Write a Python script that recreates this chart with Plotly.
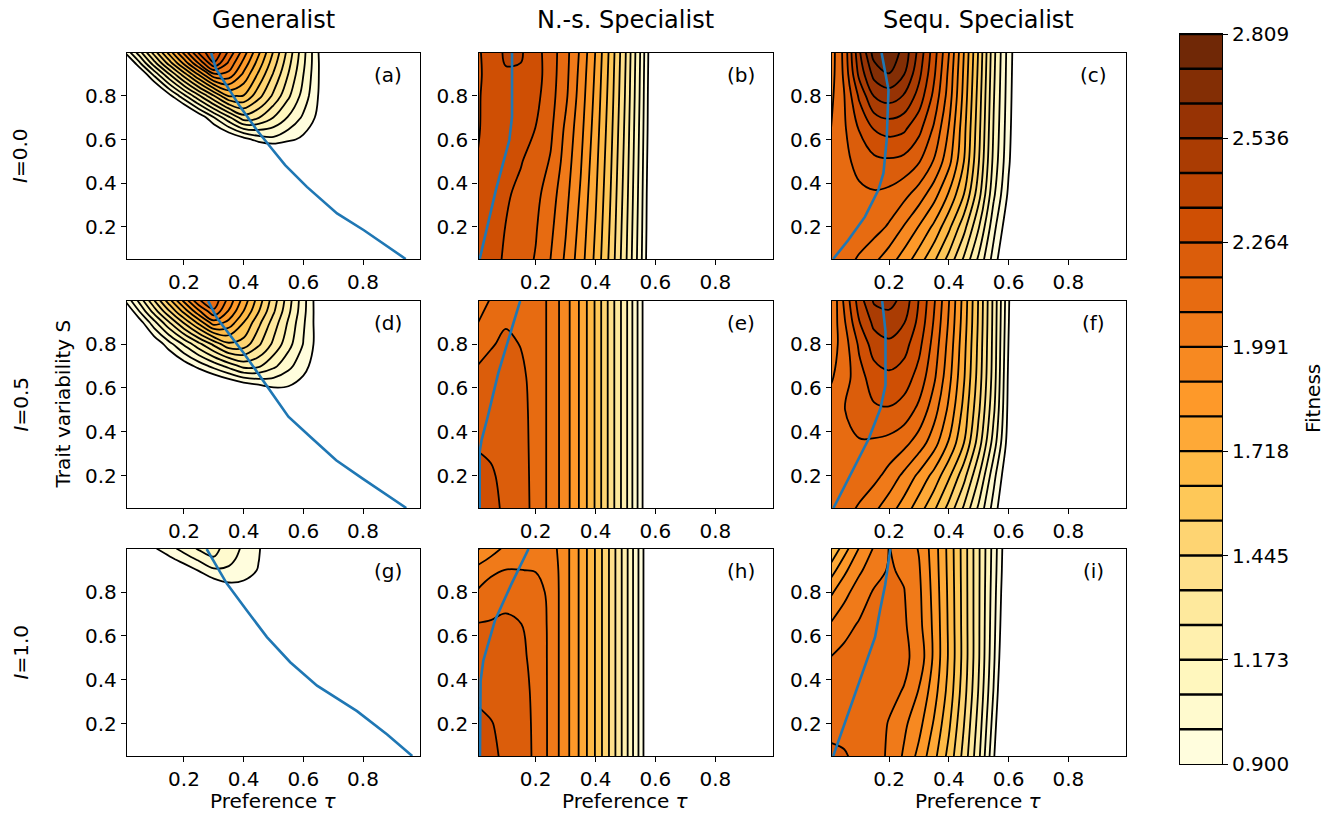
import numpy as np
import plotly.graph_objects as go

# ---------------- data ----------------
TAU = [0.005, 0.05, 0.10, 0.15, 0.20, 0.25, 0.30, 0.35, 0.40, 0.45, 0.50,
       0.55, 0.60, 0.65, 0.70, 0.85, 0.995]
S_GEN = [0.045, 0.35, 0.50, 0.60, 0.70, 0.80, 0.90, 0.95, 0.999]
S_SPEC = [0.045, 0.20, 0.35, 0.50, 0.65, 0.80, 0.90, 0.999]

# Generalist, I=0.0
FIT_A = [
    [0.10, 0.10, 0.11, 0.12, 0.13, 0.14, 0.15, 0.17, 0.19, 0.21, 0.23, 0.25, 0.27, 0.28, 0.29, 0.30, 0.30],
    [0.15, 0.16, 0.18, 0.20, 0.22, 0.25, 0.28, 0.31, 0.34, 0.37, 0.40, 0.42, 0.43, 0.43, 0.42, 0.38, 0.30],
    [0.20, 0.22, 0.26, 0.30, 0.35, 0.40, 0.45, 0.50, 0.55, 0.60, 0.62, 0.62, 0.60, 0.58, 0.56, 0.45, 0.30],
    [0.25, 0.318, 0.394, 0.473, 0.549, 0.627, 0.704, 0.781, 0.858, 0.935, 0.965, 0.921, 0.878, 0.835, 0.792, 0.50, 0.30],
    [0.20, 0.20, 0.323, 0.487, 0.653, 0.817, 0.983, 1.147, 1.313, 1.267, 1.170, 1.072, 0.974, 0.877, 0.779, 0.40, 0.20],
    [0.32, 0.476, 0.669, 0.862, 1.054, 1.247, 1.440, 1.632, 1.623, 1.478, 1.334, 1.189, 1.045, 0.899, 0.755, 0.30, 0.20],
    [0.59, 0.78, 1.02, 1.259, 1.498, 1.738, 1.977, 1.966, 1.790, 1.613, 1.436, 1.261, 1.084, 0.907, 0.730, 0.30, 0.20],
    [0.735, 0.967, 1.225, 1.483, 1.740, 1.998, 2.254, 2.062, 1.870, 1.678, 1.485, 1.293, 1.101, 0.908, 0.720, 0.30, 0.20],
    [0.916, 1.128, 1.393, 1.658, 1.923, 2.188, 2.358, 2.151, 1.943, 1.735, 1.527, 1.320, 1.112, 0.904, 0.696, 0.30, 0.20],
]
# N.-s. Specialist, I=0.0
FIT_B = [
    [2.31, 2.29, 2.253, 2.211, 2.166, 2.080, 1.976, 1.850, 1.696, 1.508, 1.283, 1.019, 0.70, 0.50, 0.35, 0.20, 0.10],
    [2.29, 2.295, 2.262, 2.221, 2.181, 2.102, 1.998, 1.870, 1.713, 1.523, 1.295, 1.028, 0.71, 0.50, 0.35, 0.20, 0.10],
    [2.275, 2.285, 2.277, 2.240, 2.199, 2.124, 2.020, 1.890, 1.731, 1.537, 1.308, 1.037, 0.71, 0.50, 0.35, 0.20, 0.10],
    [2.265, 2.285, 2.295, 2.270, 2.221, 2.165, 2.043, 1.910, 1.748, 1.552, 1.320, 1.046, 0.72, 0.50, 0.35, 0.20, 0.10],
    [2.258, 2.285, 2.305, 2.295, 2.262, 2.190, 2.065, 1.930, 1.766, 1.567, 1.332, 1.055, 0.73, 0.50, 0.35, 0.20, 0.10],
    [2.255, 2.290, 2.325, 2.320, 2.290, 2.207, 2.100, 1.950, 1.783, 1.582, 1.345, 1.065, 0.73, 0.50, 0.35, 0.20, 0.10],
    [2.250, 2.290, 2.345, 2.343, 2.303, 2.214, 2.110, 1.962, 1.794, 1.591, 1.352, 1.070, 0.735, 0.50, 0.35, 0.20, 0.10],
    [2.250, 2.300, 2.370, 2.365, 2.297, 2.217, 2.115, 1.975, 1.805, 1.600, 1.360, 1.076, 0.74, 0.50, 0.35, 0.20, 0.10],
]
# Sequ. Specialist, I=0.0
FIT_C = [
    [2.14, 2.12, 2.066, 2.007, 1.937, 1.855, 1.756, 1.64, 1.50, 1.336, 1.149, 0.95, 0.75, 0.60, 0.45, 0.25, 0.10],
    [2.135, 2.14, 2.145, 2.12, 2.07, 1.985, 1.895, 1.79, 1.65, 1.48, 1.27, 1.02, 0.82, 0.65, 0.50, 0.25, 0.10],
    [2.12, 2.14, 2.155, 2.163, 2.15, 2.11, 2.04, 1.94, 1.80, 1.63, 1.39, 1.10, 0.88, 0.70, 0.53, 0.30, 0.10],
    [2.10, 2.15, 2.20, 2.24, 2.25, 2.235, 2.18, 2.075, 1.93, 1.72, 1.45, 1.145, 0.915, 0.72, 0.54, 0.30, 0.10],
    [2.08, 2.16, 2.27, 2.36, 2.389, 2.37, 2.29, 2.16, 1.985, 1.75, 1.475, 1.165, 0.93, 0.73, 0.55, 0.30, 0.10],
    [2.06, 2.17, 2.37, 2.54, 2.578, 2.53, 2.41, 2.24, 2.04, 1.78, 1.495, 1.18, 0.94, 0.735, 0.55, 0.30, 0.10],
    [2.04, 2.19, 2.47, 2.66, 2.715, 2.63, 2.47, 2.28, 2.06, 1.795, 1.51, 1.19, 0.945, 0.74, 0.55, 0.30, 0.10],
    [2.03, 2.20, 2.52, 2.76, 2.79, 2.684, 2.507, 2.305, 2.085, 1.81, 1.523, 1.199, 0.95, 0.745, 0.55, 0.30, 0.10],
]
# Generalist, I=0.5
FIT_D = [
    [0.10, 0.10, 0.11, 0.12, 0.13, 0.14, 0.15, 0.17, 0.19, 0.21, 0.23, 0.25, 0.27, 0.28, 0.29, 0.30, 0.30],
    [0.15, 0.16, 0.18, 0.20, 0.22, 0.25, 0.28, 0.31, 0.34, 0.37, 0.40, 0.42, 0.43, 0.43, 0.42, 0.38, 0.30],
    [0.30, 0.33, 0.36, 0.40, 0.44, 0.48, 0.52, 0.56, 0.60, 0.63, 0.65, 0.65, 0.63, 0.60, 0.57, 0.45, 0.30],
    [0.40, 0.45, 0.50, 0.55, 0.60, 0.65, 0.70, 0.75, 0.80, 0.85, 0.895, 0.89, 0.86, 0.80, 0.74, 0.50, 0.30],
    [0.50, 0.57, 0.661, 0.752, 0.842, 0.933, 1.023, 1.114, 1.204, 1.188, 1.103, 1.017, 0.931, 0.845, 0.759, 0.45, 0.25],
    [0.558, 0.671, 0.813, 0.954, 1.095, 1.236, 1.378, 1.519, 1.499, 1.371, 1.243, 1.115, 0.987, 0.859, 0.731, 0.35, 0.20],
    [0.688, 0.851, 1.055, 1.258, 1.462, 1.665, 1.868, 1.785, 1.628, 1.473, 1.316, 1.161, 1.006, 0.850, 0.694, 0.30, 0.20],
    [0.788, 0.989, 1.213, 1.435, 1.658, 1.882, 2.064, 1.891, 1.716, 1.542, 1.368, 1.194, 1.020, 0.845, 0.670, 0.30, 0.20],
    [0.915, 1.107, 1.349, 1.590, 1.832, 2.073, 2.144, 1.957, 1.771, 1.584, 1.398, 1.213, 1.026, 0.840, 0.655, 0.30, 0.20],
]
# N.-s. Specialist, I=0.5
FIT_E = [
    [2.31, 2.285, 2.25, 2.215, 2.143, 2.056, 1.940, 1.792, 1.615, 1.406, 1.202, 0.94, 0.656, 0.45, 0.35, 0.20, 0.10],
    [2.29, 2.272, 2.245, 2.21, 2.143, 2.056, 1.940, 1.792, 1.615, 1.406, 1.202, 0.94, 0.656, 0.45, 0.35, 0.20, 0.10],
    [2.255, 2.25, 2.235, 2.205, 2.143, 2.056, 1.940, 1.792, 1.615, 1.406, 1.202, 0.94, 0.656, 0.45, 0.35, 0.20, 0.10],
    [2.235, 2.235, 2.225, 2.20, 2.143, 2.056, 1.940, 1.792, 1.615, 1.406, 1.202, 0.94, 0.656, 0.45, 0.35, 0.20, 0.10],
    [2.20, 2.21, 2.21, 2.19, 2.143, 2.056, 1.940, 1.792, 1.615, 1.406, 1.202, 0.94, 0.656, 0.45, 0.35, 0.20, 0.10],
    [2.12, 2.165, 2.19, 2.170, 2.143, 2.056, 1.940, 1.792, 1.615, 1.406, 1.202, 0.94, 0.656, 0.45, 0.35, 0.20, 0.10],
    [2.078, 2.12, 2.165, 2.165, 2.143, 2.056, 1.940, 1.792, 1.615, 1.406, 1.202, 0.94, 0.656, 0.45, 0.35, 0.20, 0.10],
    [2.06, 2.085, 2.13, 2.16, 2.143, 2.056, 1.940, 1.792, 1.615, 1.406, 1.202, 0.94, 0.656, 0.45, 0.35, 0.20, 0.10],
]
# Sequ. Specialist, I=0.5
FIT_F = [
    [2.14, 2.12, 2.066, 2.007, 1.937, 1.855, 1.756, 1.64, 1.50, 1.336, 1.149, 0.95, 0.75, 0.50, 0.40, 0.25, 0.10],
    [2.145, 2.15, 2.145, 2.11, 2.05, 1.97, 1.88, 1.78, 1.645, 1.48, 1.27, 1.02, 0.80, 0.55, 0.40, 0.25, 0.10],
    [2.14, 2.155, 2.165, 2.16, 2.145, 2.11, 2.04, 1.94, 1.80, 1.63, 1.40, 1.13, 0.85, 0.56, 0.40, 0.25, 0.10],
    [2.12, 2.17, 2.22, 2.25, 2.255, 2.225, 2.15, 2.03, 1.88, 1.69, 1.46, 1.19, 0.87, 0.57, 0.40, 0.25, 0.10],
    [2.07, 2.13, 2.23, 2.31, 2.335, 2.31, 2.23, 2.10, 1.93, 1.73, 1.495, 1.22, 0.88, 0.58, 0.40, 0.25, 0.10],
    [2.03, 2.13, 2.28, 2.40, 2.43, 2.39, 2.29, 2.14, 1.96, 1.75, 1.51, 1.23, 0.895, 0.585, 0.40, 0.25, 0.10],
    [2.01, 2.16, 2.35, 2.47, 2.49, 2.45, 2.33, 2.165, 1.98, 1.765, 1.52, 1.235, 0.905, 0.59, 0.40, 0.25, 0.10],
    [1.99, 2.19, 2.40, 2.55, 2.57, 2.504, 2.35, 2.186, 1.995, 1.775, 1.526, 1.239, 0.913, 0.59, 0.40, 0.25, 0.10],
]
# Generalist, I=1.0
FIT_G = [
    [0.10, 0.10, 0.11, 0.12, 0.13, 0.14, 0.15, 0.17, 0.19, 0.21, 0.23, 0.25, 0.27, 0.28, 0.29, 0.30, 0.30],
    [0.20, 0.22, 0.25, 0.28, 0.31, 0.34, 0.37, 0.40, 0.43, 0.46, 0.48, 0.50, 0.50, 0.50, 0.49, 0.45, 0.35],
    [0.30, 0.33, 0.36, 0.40, 0.44, 0.48, 0.52, 0.56, 0.60, 0.63, 0.65, 0.66, 0.66, 0.64, 0.62, 0.55, 0.40],
    [0.35, 0.38, 0.42, 0.46, 0.50, 0.54, 0.58, 0.62, 0.66, 0.70, 0.72, 0.72, 0.70, 0.68, 0.65, 0.55, 0.40],
    [0.40, 0.44, 0.48, 0.52, 0.56, 0.60, 0.65, 0.70, 0.74, 0.77, 0.78, 0.76, 0.73, 0.70, 0.66, 0.55, 0.40],
    [0.45, 0.50, 0.55, 0.60, 0.66, 0.72, 0.78, 0.84, 0.86, 0.84, 0.80, 0.77, 0.74, 0.70, 0.66, 0.55, 0.40],
    [0.586, 0.64, 0.706, 0.773, 0.84, 0.907, 0.974, 0.976, 0.935, 0.895, 0.855, 0.814, 0.774, 0.73, 0.69, 0.55, 0.40],
    [0.68, 0.74, 0.807, 0.874, 0.94, 1.006, 1.073, 1.016, 0.959, 0.902, 0.845, 0.79, 0.73, 0.68, 0.63, 0.50, 0.35],
    [0.765, 0.82, 0.889, 0.957, 1.026, 1.095, 1.109, 1.042, 0.974, 0.907, 0.839, 0.771, 0.703, 0.64, 0.58, 0.40, 0.30],
]
# N.-s. Specialist, I=1.0
FIT_H = [
    [2.31, 2.285, 2.245, 2.205, 2.16, 2.057, 1.935, 1.790, 1.62, 1.425, 1.209, 0.957, 0.673, 0.45, 0.35, 0.20, 0.10],
    [2.285, 2.268, 2.24, 2.20, 2.16, 2.057, 1.935, 1.790, 1.62, 1.425, 1.209, 0.957, 0.673, 0.45, 0.35, 0.20, 0.10],
    [2.245, 2.235, 2.225, 2.195, 2.158, 2.057, 1.935, 1.790, 1.62, 1.425, 1.209, 0.957, 0.673, 0.45, 0.35, 0.20, 0.10],
    [2.215, 2.21, 2.205, 2.185, 2.155, 2.057, 1.935, 1.790, 1.62, 1.425, 1.209, 0.957, 0.673, 0.45, 0.35, 0.20, 0.10],
    [2.178, 2.18, 2.185, 2.175, 2.15, 2.057, 1.935, 1.790, 1.62, 1.425, 1.209, 0.957, 0.673, 0.45, 0.35, 0.20, 0.10],
    [2.09, 2.13, 2.15, 2.135, 2.12, 2.057, 1.935, 1.790, 1.62, 1.425, 1.209, 0.957, 0.673, 0.45, 0.35, 0.20, 0.10],
    [2.02, 2.06, 2.085, 2.083, 2.078, 2.05, 1.935, 1.790, 1.62, 1.425, 1.209, 0.957, 0.673, 0.45, 0.35, 0.20, 0.10],
    [1.89, 1.95, 2.01, 2.04, 2.04, 2.03, 1.935, 1.790, 1.62, 1.425, 1.209, 0.957, 0.673, 0.45, 0.35, 0.20, 0.10],
]
# Sequ. Specialist, I=1.0
FIT_I = [
    [2.19, 2.18, 2.155, 2.12, 2.067, 1.976, 1.870, 1.745, 1.595, 1.413, 1.192, 0.912, 0.60, 0.45, 0.35, 0.20, 0.10],
    [2.15, 2.15, 2.13, 2.11, 2.078, 2.01, 1.93, 1.80, 1.645, 1.45, 1.225, 0.95, 0.64, 0.45, 0.35, 0.20, 0.10],
    [2.12, 2.125, 2.125, 2.11, 2.10, 2.078, 1.985, 1.85, 1.685, 1.485, 1.255, 0.985, 0.68, 0.45, 0.35, 0.20, 0.10],
    [2.085, 2.105, 2.115, 2.115, 2.115, 2.10, 2.05, 1.883, 1.706, 1.502, 1.273, 1.008, 0.72, 0.45, 0.35, 0.20, 0.10],
    [2.00, 2.055, 2.09, 2.105, 2.11, 2.095, 2.02, 1.88, 1.703, 1.50, 1.275, 1.02, 0.75, 0.45, 0.35, 0.20, 0.10],
    [1.885, 1.96, 2.04, 2.09, 2.10, 2.085, 2.01, 1.87, 1.698, 1.498, 1.276, 1.03, 0.77, 0.45, 0.35, 0.20, 0.10],
    [1.765, 1.88, 1.974, 2.048, 2.09, 2.07, 2.00, 1.862, 1.693, 1.496, 1.277, 1.038, 0.785, 0.45, 0.35, 0.20, 0.10],
    [1.62, 1.77, 1.905, 2.00, 2.085, 2.045, 1.985, 1.855, 1.689, 1.495, 1.277, 1.044, 0.794, 0.50, 0.35, 0.20, 0.10],
]

# optimum lines (blue)
BLUE_A_TAU = [0.291, 0.308, 0.388, 0.444, 0.489, 0.539, 0.612, 0.713, 0.803, 0.943]
BLUE_A_S = [0.997, 0.923, 0.751, 0.644, 0.567, 0.483, 0.383, 0.261, 0.184, 0.052]
BLUE_B_TAU = [0.121, 0.121, 0.112, 0.067, 0.013]
BLUE_B_S = [0.997, 0.705, 0.598, 0.368, 0.052]
BLUE_C_TAU = [0.175, 0.198, 0.192, 0.181, 0.164, 0.119, 0.063, 0.013]
BLUE_C_S = [0.997, 0.828, 0.598, 0.445, 0.368, 0.245, 0.138, 0.052]
BLUE_D_TAU = [0.281, 0.31, 0.40, 0.478, 0.55, 0.625, 0.71, 0.80, 0.945]
BLUE_D_S = [0.997, 0.92, 0.76, 0.607, 0.469, 0.375, 0.27, 0.185, 0.052]
BLUE_E_TAU = [0.148, 0.12, 0.092, 0.075, 0.04, 0.019, 0.013, 0.013]
BLUE_E_S = [0.997, 0.868, 0.745, 0.668, 0.47, 0.36, 0.31, 0.052]
BLUE_F_TAU = [0.177, 0.188, 0.188, 0.171, 0.132, 0.014]
BLUE_F_S = [0.997, 0.858, 0.613, 0.506, 0.368, 0.052]
BLUE_G_TAU = [0.276, 0.343, 0.41, 0.478, 0.556, 0.646, 0.78, 0.881, 0.965]
BLUE_G_S = [0.997, 0.84, 0.717, 0.595, 0.48, 0.373, 0.257, 0.15, 0.052]
BLUE_H_TAU = [0.176, 0.12, 0.064, 0.025, 0.016, 0.014]
BLUE_H_S = [0.997, 0.84, 0.671, 0.487, 0.395, 0.052]
BLUE_I_TAU = [0.204, 0.187, 0.170, 0.153, 0.013]
BLUE_I_S = [0.997, 0.834, 0.72, 0.594, 0.052]

LEVEL_MIN = 0.9
LEVEL_MAX = 2.809
N_BANDS = 21
CBAR_TICKS = [0.900, 1.173, 1.445, 1.718, 1.991, 2.264, 2.536, 2.809]
AXIS_TICKS = [0.2, 0.4, 0.6, 0.8]
COL_TITLES = ["Generalist", "N.-s. Specialist", "Sequ. Specialist"]
ROW_LABELS = ["<i>I</i>=0.0", "<i>I</i>=0.5", "<i>I</i>=1.0"]
PANEL_LABELS = ["(a)", "(b)", "(c)", "(d)", "(e)", "(f)", "(g)", "(h)", "(i)"]

# ---------------- styling ----------------
W, H = 1338, 816
FONT = "DejaVu Sans"
COLS_PX = [(127, 420), (478.5, 772.5), (832, 1125.5)]
ROWS_PX = [(53, 259), (301, 508), (549, 756)]
CBAR_PX = (1180, 1222, 34, 764)
XR = [0.009, 0.991]
YR = [0.052, 0.997]

YLORBR = ['#ffffe5', '#fff7bc', '#fee391', '#fec44f', '#fe9929',
          '#ec7014', '#cc4c02', '#993404', '#662506']


def hex2rgb(h):
    h = h.lstrip('#')
    return np.array([int(h[i:i + 2], 16) for i in (0, 2, 4)], dtype=float)


_RGB = np.array([hex2rgb(c) for c in YLORBR])


def ylorbr(t):
    pos = np.linspace(0, 1, len(YLORBR))
    rgb = [np.interp(t, pos, _RGB[:, i]) for i in range(3)]
    return 'rgb(%d,%d,%d)' % tuple(int(round(v)) for v in rgb)


BAND_COLORS = [ylorbr((k + 0.5) / N_BANDS) for k in range(N_BANDS)]
STEP = (LEVEL_MAX - LEVEL_MIN) / N_BANDS
LEVELS = [LEVEL_MIN + k * STEP for k in range(N_BANDS + 1)]

# contour colorscale: plotly samples level+step/2 at fraction (k+1)/(nlev);
# fraction 0 is the area below the lowest level (left white like matplotlib)
nlev = N_BANDS + 1
cols_all = ['rgb(255,255,255)'] + BAND_COLORS + [BAND_COLORS[-1]]
CSCALE = []
for j, c in enumerate(cols_all):
    lo = max(0.0, (j - 0.5) / nlev)
    hi = min(1.0, (j + 0.5) / nlev)
    CSCALE.append([lo, c])
    CSCALE.append([hi, c])

# heatmap colorscale for the colour bar (z = band index)
HSCALE = []
for k, c in enumerate(BAND_COLORS):
    HSCALE.append([k / N_BANDS, c])
    HSCALE.append([(k + 1) / N_BANDS, c])

PANELS = [
    (FIT_A, S_GEN, BLUE_A_TAU, BLUE_A_S),
    (FIT_B, S_SPEC, BLUE_B_TAU, BLUE_B_S),
    (FIT_C, S_SPEC, BLUE_C_TAU, BLUE_C_S),
    (FIT_D, S_GEN, BLUE_D_TAU, BLUE_D_S),
    (FIT_E, S_SPEC, BLUE_E_TAU, BLUE_E_S),
    (FIT_F, S_SPEC, BLUE_F_TAU, BLUE_F_S),
    (FIT_G, S_GEN, BLUE_G_TAU, BLUE_G_S),
    (FIT_H, S_SPEC, BLUE_H_TAU, BLUE_H_S),
    (FIT_I, S_SPEC, BLUE_I_TAU, BLUE_I_S),
]

fig = go.Figure()
layout = dict(
    template='none',
    width=W, height=H, autosize=False, margin=dict(l=0, r=0, t=0, b=0, pad=0),
    paper_bgcolor='white', plot_bgcolor='white', showlegend=False,
    font=dict(family=FONT, size=20, color='black'),
)

axis_common = dict(showline=True, mirror=True, linecolor='black', linewidth=1.3,
                   ticks='outside', ticklen=5, tickwidth=1.3, tickcolor='black',
                   showgrid=False, zeroline=False, automargin=False,
                   tickfont=dict(family=FONT, size=20, color='black'))

annotations = []
for p, (Z, SG, BT, BS) in enumerate(PANELS):
    r, c = divmod(p, 3)
    n = p + 1
    xa = 'x' if n == 1 else 'x%d' % n
    ya = 'y' if n == 1 else 'y%d' % n
    x0, x1 = COLS_PX[c]
    y0, y1 = ROWS_PX[r]
    layout['xaxis' if n == 1 else 'xaxis%d' % n] = dict(
        axis_common, domain=[x0 / W, x1 / W], range=XR, anchor=ya,
        tickvals=AXIS_TICKS)
    layout['yaxis' if n == 1 else 'yaxis%d' % n] = dict(
        axis_common, domain=[1 - y1 / H, 1 - y0 / H], range=YR, anchor=xa,
        tickvals=AXIS_TICKS)
    fig.add_trace(go.Contour(
        x=TAU, y=SG, z=Z, xaxis=xa, yaxis=ya,
        colorscale=CSCALE, showscale=False, autocontour=False,
        contours=dict(start=LEVEL_MIN, end=LEVEL_MAX + STEP * 0.005, size=STEP,
                      coloring='fill', showlines=True),
        line=dict(color='black', width=1.8, smoothing=1.0),
        hoverinfo='skip'))
    fig.add_trace(go.Scatter(
        x=BT, y=BS, xaxis=xa, yaxis=ya, mode='lines',
        line=dict(color='#1f77b4', width=2.6), hoverinfo='skip'))
    annotations.append(dict(
        text=PANEL_LABELS[p], xref='paper', yref='paper',
        x=(x1 - 32) / W, y=1 - (y0 + 22) / H, showarrow=False,
        xanchor='center', yanchor='middle', font=dict(size=20)))

# column titles and x labels
for c, t in enumerate(COL_TITLES):
    x0, x1 = COLS_PX[c]
    annotations.append(dict(text=t, xref='paper', yref='paper',
                            x=(x0 + x1) / 2 / W, y=1 - 20 / H, showarrow=False,
                            xanchor='center', yanchor='middle', font=dict(size=24)))
    annotations.append(dict(text='Preference <i>τ</i>', xref='paper', yref='paper',
                            x=(x0 + x1) / 2 / W, y=1 - 801 / H, showarrow=False,
                            xanchor='center', yanchor='middle', font=dict(size=20)))
# row labels
for r, t in enumerate(ROW_LABELS):
    y0, y1 = ROWS_PX[r]
    annotations.append(dict(text=t, xref='paper', yref='paper',
                            x=20 / W, y=1 - (y0 + y1) / 2 / H, showarrow=False,
                            textangle=-90, xanchor='center', yanchor='middle',
                            font=dict(size=20)))
annotations.append(dict(text='Trait variability S', xref='paper', yref='paper',
                        x=62 / W, y=1 - (ROWS_PX[1][0] + ROWS_PX[1][1]) / 2 / H,
                        showarrow=False, textangle=-90, xanchor='center',
                        yanchor='middle', font=dict(size=20)))

# colour bar drawn as its own small axes
cx0, cx1, cy0, cy1 = CBAR_PX
layout['xaxis10'] = dict(domain=[cx0 / W, cx1 / W], range=[0, 1], anchor='y10',
                         showline=True, mirror=True, linecolor='black', linewidth=1,
                         showticklabels=False, ticks='', showgrid=False, zeroline=False,
                         automargin=False)
layout['yaxis10'] = dict(domain=[1 - cy1 / H, 1 - cy0 / H], range=[LEVEL_MIN, LEVEL_MAX],
                         anchor='x10', side='right', showline=True, mirror=True,
                         linecolor='black', linewidth=1, ticks='outside', ticklen=5,
                         tickwidth=1.3, tickcolor='black', showgrid=False, zeroline=False,
                         automargin=False,
                         tickvals=CBAR_TICKS, ticktext=['%.3f' % v for v in CBAR_TICKS],
                         tickfont=dict(family=FONT, size=20, color='black'))
fig.add_trace(go.Heatmap(
    x=[0, 1], y=LEVELS, z=[[k] for k in range(N_BANDS)], xaxis='x10', yaxis='y10',
    colorscale=HSCALE, zmin=0, zmax=N_BANDS, showscale=False, hoverinfo='skip'))
lx, ly = [], []
for lv in LEVELS[1:]:
    lx += [0, 1, None]
    ly += [lv, lv, None]
fig.add_trace(go.Scatter(x=lx, y=ly, xaxis='x10', yaxis='y10', mode='lines',
                         line=dict(color='black', width=2.4), hoverinfo='skip'))
annotations.append(dict(text='Fitness', xref='paper', yref='paper',
                        x=1313 / W, y=1 - (cy0 + cy1) / 2 / H, showarrow=False,
                        textangle=-90, xanchor='center', yanchor='middle',
                        font=dict(size=20)))

layout['annotations'] = annotations
fig.update_layout(**layout)
fig.write_html("out.html", config={'displayModeBar': False},
               post_script="document.body.style.margin='0px';"
                           "document.body.style.padding='0px';"
                           "document.body.style.overflow='hidden';")
